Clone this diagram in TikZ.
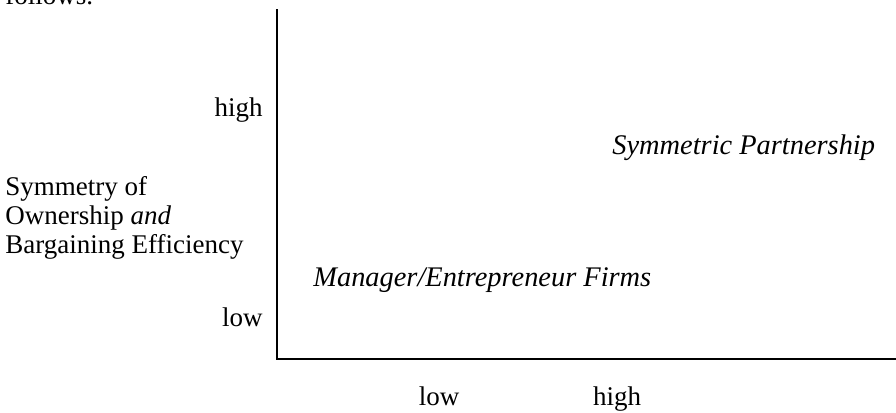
\documentclass[tikz,border=0pt]{standalone}
\usepackage{fontspec}
\setmainfont{Liberation Serif}
\begin{document}
\begin{tikzpicture}[x=0.5pt,y=-0.5pt,
  lbl/.style={inner sep=0pt,font=\fontsize{13.5}{14.5}\selectfont},
  ilbl/.style={inner sep=0pt,font=\fontsize{14.2}{15}\selectfont\itshape},
  axis/.style={line width=1pt,black}]
\useasboundingbox (0,0) rectangle (896,413);
\node[lbl,anchor=base west] (fol) at (5,4) {follows.};
\coordinate (top) at (277,9);
\coordinate (org) at (277,359);
\coordinate (rgt) at (896,359);
\draw[axis] (top) -- (org) -- (rgt);
\node[lbl,anchor=base east] (yh) at (263,116) {high};
\node[lbl,anchor=base east] (yl) at (263,326) {low};
\node[lbl,anchor=north west,align=left] (ytitle) at (5,176) {Symmetry of\\Ownership \textit{and}\\Bargaining Efficiency};
\node[ilbl,anchor=base west] (mef) at (313,286) {Manager/Entrepreneur Firms};
\node[ilbl,anchor=base west] (sp) at (612,154) {Symmetric Partnership};
\node[lbl,anchor=base] (xl) at (439,405) {low};
\node[lbl,anchor=base] (xh) at (617,405) {high};
\end{tikzpicture}
\end{document}
